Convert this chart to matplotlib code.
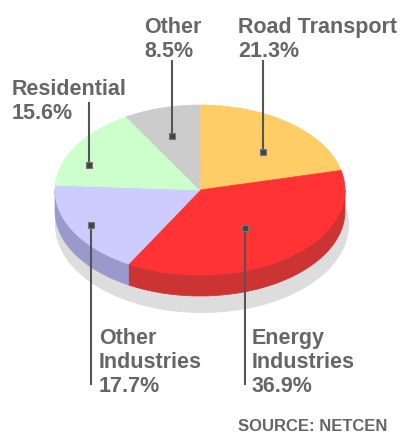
import numpy as np
import matplotlib
matplotlib.use("Agg")
import matplotlib.pyplot as plt
from matplotlib.patches import Polygon, Ellipse

# ---- data ----
categories = ["Road Transport", "Energy Industries", "Other Industries", "Residential", "Other"]
label_text = ["Road Transport", "Energy\nIndustries", "Other\nIndustries", "Residential", "Other"]
values = [21.3, 36.9, 17.7, 15.6, 8.5]
top_colors = ["#FFCC66", "#FF3333", "#CCCCFF", "#CCFFCC", "#CCCCCC"]
side_colors = ["#CC9944", "#CC3333", "#9999CC", "#99CC99", "#999999"]
source_text = "SOURCE: NETCEN"

# ---- layout (pixel space) ----
W, H = 402, 435
cx, cy, rx, ry, depth = 200, 191, 145, 85, 21
shadow = dict(cx=202, cy=226, rx=147, ry=88)
text_color = "#666666"
line_color = "#555555"
# per label: radial fraction of marker, label (x, top y), line end y
ann = {
    "Road Transport":    dict(r=0.62, lx=238, ly=17, ly_end=61),
    "Energy Industries": dict(r=0.54, lx=252, ly=328, ly_end=386),
    "Other Industries":  dict(r=0.86, lx=99, ly=328, ly_end=386),
    "Residential":       dict(r=0.82, lx=12, ly=79, ly_end=103),
    "Other":             dict(r=0.66, lx=144, ly=17, ly_end=61),
}
mid_adjust = {"Road Transport": -6, "Energy Industries": -2, "Other Industries": 0,
              "Residential": 10, "Other": 2}

fig = plt.figure(figsize=(W / 100, H / 100), dpi=100)
ax = fig.add_axes([0, 0, 1, 1])
ax.set_xlim(0, W)
ax.set_ylim(H, 0)
ax.axis("off")


def pt(theta_deg, r=1.0, dy=0.0):
    t = np.radians(theta_deg)
    return cx + r * rx * np.cos(t), cy - r * ry * np.sin(t) + dy


# shadow
ax.add_patch(Ellipse((shadow["cx"], shadow["cy"]), 2 * shadow["rx"], 2 * shadow["ry"],
                     facecolor="#DDDDDD", edgecolor="none", zorder=1))

total = sum(values)
angles = [360 * v / total for v in values]
starts = 90 - np.concatenate([[0], np.cumsum(angles)[:-1]])
ends = starts - np.array(angles)

# sides (visible for theta in [-180, 0])
for s, e, sc in zip(starts, ends, side_colors):
    a, b = max(e, -180), min(s, 0)
    if b <= a:
        continue
    th = np.linspace(b, a, 80)
    x, y = pt(th)
    xs = np.concatenate([x, x[::-1]])
    ys = np.concatenate([y, (y + depth)[::-1]])
    ax.add_patch(Polygon(np.column_stack([xs, ys]), closed=True, facecolor=sc,
                         edgecolor=sc, lw=0.5, zorder=2))

# tops
for s, e, tc in zip(starts, ends, top_colors):
    th = np.linspace(s, e, 120)
    x, y = pt(th)
    xs = np.concatenate([[cx], x])
    ys = np.concatenate([[cy], y])
    ax.add_patch(Polygon(np.column_stack([xs, ys]), closed=True, facecolor=tc,
                         edgecolor=tc, lw=0.5, zorder=3))

# labels, leader lines, markers
for cat, lt, v, s, e in zip(categories, label_text, values, starts, ends):
    a = ann[cat]
    mid = (s + e) / 2 + mid_adjust[cat]
    mx, my = pt(mid, a["r"])
    ax.plot([mx, mx], [my, a["ly_end"]], color=line_color, lw=1.5, zorder=4,
            solid_capstyle="butt")
    ax.plot(mx, my, marker="s", ms=4.5, mfc="#444444", mec="#777777", mew=0.8, zorder=5)
    ax.text(a["lx"], a["ly"], f"{lt}\n{v:.1f}%", ha="left", va="top",
            fontsize=15.5, fontweight="bold", family="Liberation Sans",
            color=text_color, zorder=6)

ax.text(238, 419, source_text, ha="left", va="top", fontsize=12, fontweight="bold",
        family="Liberation Sans", color=text_color)

fig.savefig("out.png", dpi=100)
